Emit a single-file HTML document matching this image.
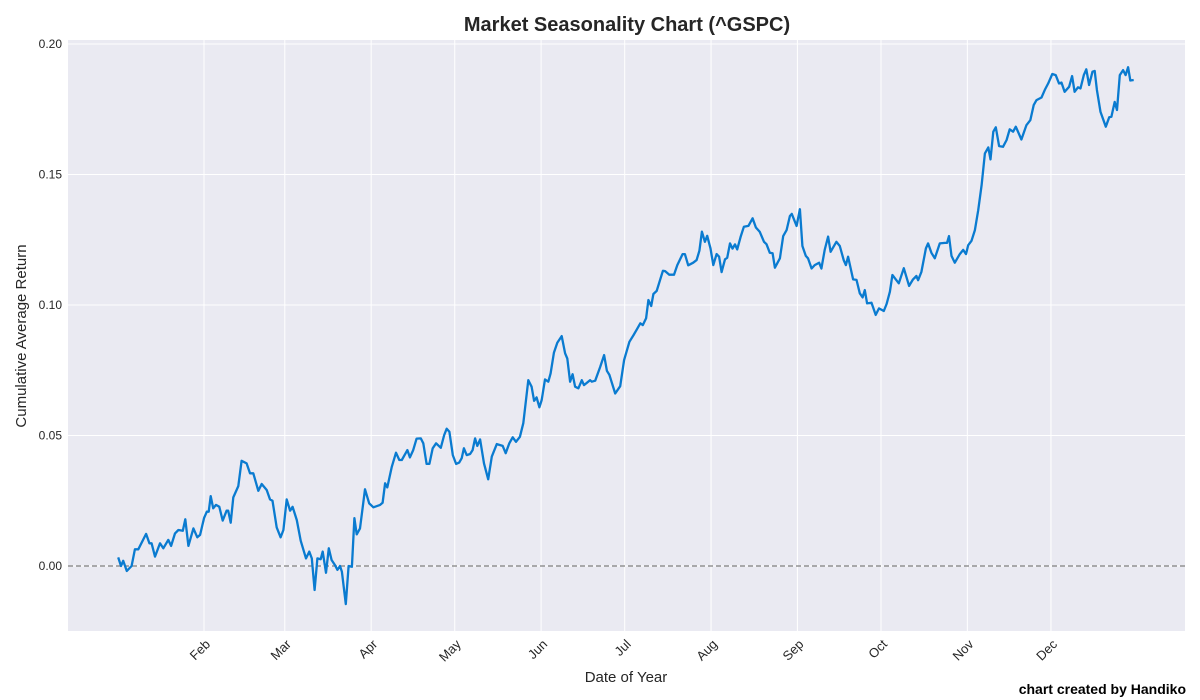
<!DOCTYPE html>
<html><head><meta charset="utf-8"><style>
html,body{margin:0;padding:0;background:#fff;}
svg{display:block;font-family:"Liberation Sans",Arial,sans-serif;}
</style></head><body>
<svg id="chart" width="1200" height="700" viewBox="0 0 1200 700" xmlns="http://www.w3.org/2000/svg">
<rect x="0" y="0" width="1200" height="700" fill="#ffffff"/>
<rect x="68" y="40" width="1117" height="591" fill="#eaeaf2"/>
<g id="grid"></g>
<g id="yticks"></g>
<g id="xticks"></g>
<line id="zero" stroke="#808080" stroke-width="1.2" stroke-dasharray="5,3"/>
<path id="series" fill="none" stroke="#0a7bd0" stroke-width="2.3" stroke-linejoin="round"/>
<text x="627" y="31" text-anchor="middle" font-size="20" font-weight="bold" fill="#262626">Market Seasonality Chart (^GSPC)</text>
<text x="626" y="682" text-anchor="middle" font-size="15" fill="#262626">Date of Year</text>
<text transform="translate(26,336) rotate(-90)" text-anchor="middle" font-size="15" fill="#262626">Cumulative Average Return</text>
<text x="1186" y="694" text-anchor="end" font-size="14" font-weight="bold" fill="#000">chart created by Handiko</text>
</svg>
<script>
const days = [1.2,2.2,3.0,4.3,6.0,7.2,8.4,11.2,12.4,13.2,14.4,16.2,17.4,19.2,20.2,21.6,22.8,24.4,25.3,26.4,28.2,29.6,30.6,32.0,33.0,33.7,34.4,35.3,36.3,37.5,38.7,40.1,40.7,41.6,42.5,44.3,45.5,47.3,48.5,49.7,51.5,52.7,54.5,55.7,56.6,58.1,59.5,60.5,61.7,62.9,63.8,65.3,66.7,68.6,69.8,70.7,71.7,72.7,73.9,74.6,75.8,76.8,77.8,79.0,79.9,80.8,81.5,82.9,83.9,85.1,86.0,86.8,88.0,89.8,91.3,92.8,95.2,96.1,97.0,97.8,99.4,100.9,102.1,103.0,105.0,105.9,107.1,108.3,109.8,110.7,111.9,112.9,114.1,115.3,117.0,118.2,119.1,120.1,121.3,122.5,123.6,124.5,125.3,126.3,127.5,128.4,129.3,130.1,131.1,132.5,134.0,135.3,137.1,139.2,140.3,141.6,142.8,144.0,145.4,146.6,148.4,149.6,150.5,151.4,152.4,153.2,154.4,155.6,156.4,157.6,158.8,160.4,161.6,162.4,163.4,164.3,165.2,166.4,167.6,168.4,170.6,171.2,172.4,174.2,175.6,176.6,177.5,179.6,181.4,182.8,184.7,186.2,187.4,188.6,189.5,190.7,191.5,192.5,193.3,194.5,196.7,197.5,199.0,200.7,201.9,203.8,204.6,205.8,207.6,208.8,209.8,210.7,211.8,212.6,213.8,214.8,216.0,216.9,217.8,219.0,219.8,220.8,221.7,222.6,223.4,224.6,225.8,227.4,228.9,230.1,231.5,233.0,233.9,235.1,236.1,236.9,238.7,239.9,241.1,242.3,243.0,244.7,245.9,246.8,248.0,248.8,250.1,251.2,252.8,253.6,254.8,256.0,256.9,259.0,260.2,261.6,262.4,263.2,265.0,266.2,267.4,268.4,269.2,270.0,271.6,273.1,274.3,276.0,277.0,278.2,279.1,280.3,281.4,283.2,285.1,286.5,287.7,288.3,289.5,291.1,291.9,293.1,294.3,296.1,297.9,298.7,299.4,300.3,301.5,303.3,304.5,305.5,306.3,307.5,308.7,309.9,311.1,312.3,313.5,314.3,315.3,316.2,317.4,318.8,320.1,321.2,322.4,323.4,325.4,327.2,328.6,329.8,330.8,332.6,333.8,335.0,336.5,337.7,338.9,339.8,340.9,342.5,343.6,344.5,345.7,346.6,347.8,348.7,349.7,350.9,351.7,352.5,353.8,355.7,356.9,357.7,358.9,359.7,360.7,361.9,362.8,363.7,364.5,365.7];
const returns = [.0033,0,.0020,-.0019,0,.0064,.0064,.0123,.0087,.0087,.0036,.0087,.0068,.0100,.0077,.0125,.0138,.0135,.0179,.0077,.0144,.0110,.0119,.0183,.0208,.0208,.0268,.0221,.0234,.0227,.0174,.0212,.0212,.0166,.0263,.0306,.0403,.0393,.0355,.0355,.0288,.0314,.0291,.0255,.0250,.0148,.0110,.0138,.0255,.0212,.0227,.0176,.0097,.0029,.0055,.0029,-.0092,.0029,.0026,.0055,-.0026,.0068,.0023,.0004,-.0015,0,-.0022,-.0146,0,-.0003,.0183,.0121,.0144,.0294,.0240,.0225,.0234,.0242,.0317,.0301,.0380,.0434,.0406,.0406,.0444,.0416,.0444,.0488,.0489,.0470,.0391,.0391,.0451,.0470,.0453,.0502,.0526,.0514,.0425,.0391,.0396,.0413,.0451,.0425,.0429,.0444,.0489,.0460,.0485,.0393,.0332,.0419,.0467,.0460,.0432,.0470,.0493,.0476,.0495,.0547,.0712,.0687,.0633,.0646,.0608,.0636,.0715,.0706,.0738,.0817,.0855,.0881,.0815,.0795,.0706,.0735,.0687,.0681,.0712,.0693,.0712,.0706,.0710,.0763,.0808,.0748,.0732,.0661,.0689,.0789,.0859,.0885,.0907,.0930,.0923,.0949,.1019,.0996,.1042,.1054,.1131,.1130,.1116,.1116,.1153,.1195,.1195,.1152,.1162,.1172,.1208,.1281,.1242,.1265,.1217,.1153,.1195,.1185,.1126,.1175,.1181,.1236,.1216,.1232,.1213,.1261,.1300,.1303,.1332,.1297,.1280,.1242,.1233,.1200,.1198,.1143,.1179,.1264,.1287,.1341,.1349,.1303,.1367,.1226,.1188,.1179,.1140,.1153,.1162,.1140,.1211,.1262,.1204,.1242,.1226,.1172,.1153,.1185,.1098,.1096,.1045,.1029,.1057,.1006,.1009,.0962,.0987,.0977,.1004,.1051,.1115,.1098,.1083,.1141,.1073,.1098,.1111,.1095,.1127,.1217,.1236,.1200,.1179,.1236,.1238,.1238,.1264,.1188,.1162,.1195,.1211,.1195,.1229,.1246,.1287,.1363,.1459,.1581,.1604,.1558,.1664,.1681,.1609,.1606,.1632,.1673,.1664,.1683,.1634,.1689,.1708,.1766,.1785,.1795,.1824,.1849,.1885,.1881,.1849,.1852,.1817,.1836,.1877,.1817,.1834,.1830,.1881,.1903,.1843,.1894,.1897,.1824,.1740,.1683,.1719,.1721,.1778,.1747,.1881,.1900,.1881,.1911,.1860,.1862];
const monthLabels = ["Feb","Mar","Apr","May","Jun","Jul","Aug","Sep","Oct","Nov","Dec"];
const monthDays = [32,61,92,122,153,183,214,245,275,306,336];
const yTicks = [0,0.05,0.10,0.15,0.20];
const yTickLabels = ["0.00","0.05","0.10","0.15","0.20"];

const X0=68, X1=1185, Y0=40, Y1=631;
function xScale(d){ return 204 + (d-32)*2.786; }
function yScale(v){ return 566 - v*2610; }
const NS="http://www.w3.org/2000/svg";
const grid=document.getElementById('grid');
const yt=document.getElementById('yticks');
const xt=document.getElementById('xticks');

yTicks.forEach((v,i)=>{
  const y=yScale(v);
  const l=document.createElementNS(NS,'line');
  l.setAttribute('x1',X0);l.setAttribute('x2',X1);l.setAttribute('y1',y);l.setAttribute('y2',y);
  l.setAttribute('stroke','#fff');l.setAttribute('stroke-width','1');
  
  
  grid.appendChild(l);
  const t=document.createElementNS(NS,'text');
  t.setAttribute('x',62);t.setAttribute('y',y+4);t.setAttribute('text-anchor','end');
  t.setAttribute('font-size','12');t.setAttribute('fill','#262626');
  t.textContent=yTickLabels[i];
  
  
  yt.appendChild(t);
});
monthDays.forEach((d,i)=>{
  const x=xScale(d);
  const l=document.createElementNS(NS,'line');
  l.setAttribute('x1',x);l.setAttribute('x2',x);l.setAttribute('y1',Y0);l.setAttribute('y2',Y1);
  l.setAttribute('stroke','#fff');l.setAttribute('stroke-width','1');
  
  
  grid.appendChild(l);
  const t=document.createElementNS(NS,'text');
  t.setAttribute('transform','translate('+(x+7)+',645) rotate(-45)');
  t.setAttribute('text-anchor','end');
  t.setAttribute('font-size','13');t.setAttribute('fill','#262626');
  t.textContent=monthLabels[i];
  
  
  xt.appendChild(t);
});
const z=document.getElementById('zero');
z.setAttribute('x1',X0);z.setAttribute('x2',X1);z.setAttribute('y1',yScale(0));z.setAttribute('y2',yScale(0));
let dstr='';
days.forEach((d,i)=>{ dstr+=(i?'L':'M')+xScale(d).toFixed(1)+','+yScale(returns[i]).toFixed(1); });
document.getElementById('series').setAttribute('d',dstr);
</script>
</body></html>
